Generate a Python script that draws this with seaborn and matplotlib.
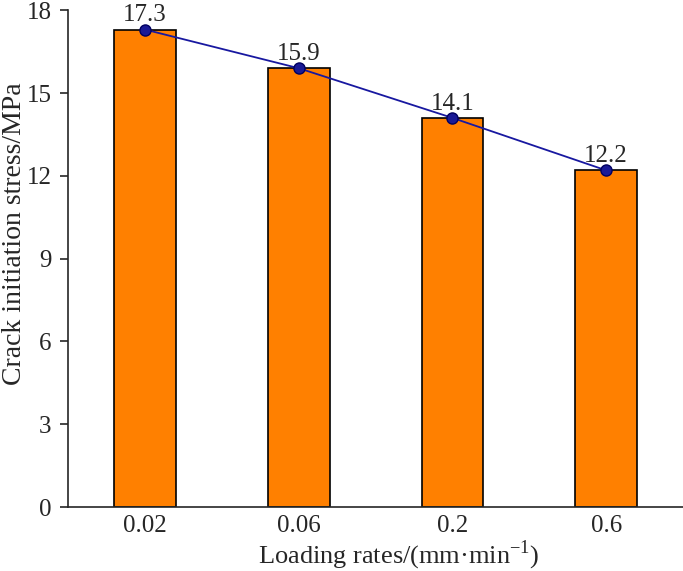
import numpy as np
import pandas as pd
import seaborn as sns
import matplotlib.pyplot as plt

# 数据
rates = ['0.02', '0.06', '0.2', '0.6']
stress = [17.3, 15.9, 14.1, 12.2]

df = pd.DataFrame({'rate': rates, 'stress': stress})

sns.set_style('ticks')
plt.rcParams['font.family'] = ['Liberation Serif', 'DejaVu Serif']
plt.rcParams['mathtext.fontset'] = 'custom'
plt.rcParams['mathtext.rm'] = 'Liberation Serif'

fig, ax = plt.subplots(figsize=(6.83, 5.71), dpi=100)
fig.subplots_adjust(left=0.1, right=1.0, top=0.982, bottom=0.112)

sns.barplot(data=df, x='rate', y='stress', color='#FF8000', width=0.40,
            edgecolor='black', linewidth=1.2, saturation=1, ax=ax)
ax.plot(np.arange(len(rates)), stress, color='#1818A0', lw=1.3,
        marker='o', ms=8, mfc='#1a1a96', mec='#000060', mew=1, zorder=5)

for i, v in enumerate(stress):
    ax.annotate(f'{v}', (i, v), xytext=(0, 6), textcoords='offset points',
                ha='center', va='baseline', fontsize=18)

ax.set_ylim(0, 18)
ax.set_xlim(-0.5, 3.5)
ax.set_yticks(np.arange(0, 19, 3))
ax.tick_params(axis='y', direction='out', length=6, width=1.2, labelsize=18, pad=6)
ax.tick_params(axis='x', length=0, labelsize=18, pad=6)
ax.set_xlabel('Loading rates/(mm·min$^{\\mathrm{-1}}$)', fontsize=19)
ax.set_ylabel('Crack initiation stress/MPa', fontsize=20)
ax.xaxis.set_label_coords(0.538, -0.064)
ax.yaxis.set_label_coords(-0.068, 0.551)
for s in ['top', 'right']:
    ax.spines[s].set_visible(False)
for s in ['left', 'bottom']:
    ax.spines[s].set_linewidth(1.2)

fig.savefig('out.png', dpi=100)
